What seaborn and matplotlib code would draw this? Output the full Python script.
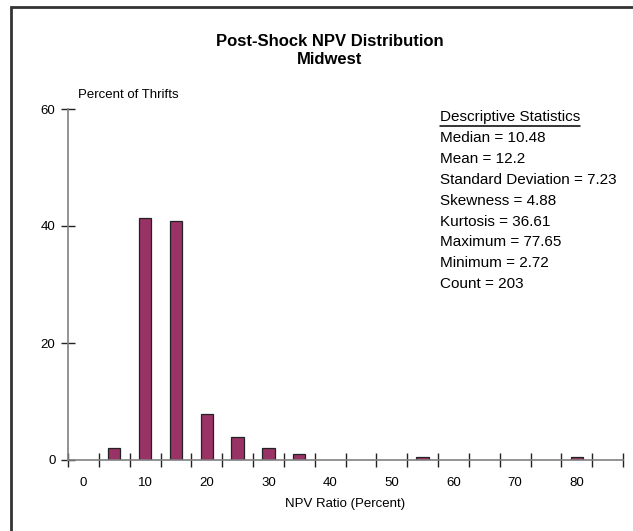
import matplotlib
matplotlib.use("Agg")
import matplotlib.pyplot as plt
import seaborn as sns
import pandas as pd
from matplotlib.patches import Rectangle

# bin centres (NPV ratio, percent) and share of thrifts in each bin
npv_bins = [5, 10, 15, 20, 25, 30, 35, 55, 80]
pct_thrifts = [1.97, 41.38, 40.89, 7.88, 3.94, 1.97, 0.99, 0.49, 0.49]

x_labels = [0, 10, 20, 30, 40, 50, 60, 70, 80]
y_ticks = [0, 20, 40, 60]

stats_lines = ["Median = 10.48", "Mean = 12.2", "Standard Deviation = 7.23",
               "Skewness = 4.88", "Kurtosis = 36.61", "Maximum = 77.65",
               "Minimum = 2.72", "Count = 203"]

df = pd.DataFrame({"npv": npv_bins, "pct": pct_thrifts})

sns.set_style("white", {"text.color": "black", "axes.labelcolor": "black",
                        "xtick.color": "black", "ytick.color": "black"})
plt.rcParams['font.family'] = ['Liberation Sans', 'DejaVu Sans']

fig = plt.figure(figsize=(6.33, 5.31), dpi=100)
ax = fig.add_axes([68 / 633, 1 - 460 / 531, (623 - 68) / 633, (460 - 109) / 531])

sns.barplot(data=df, x="npv", y="pct", native_scale=True, width=0.4,
            color="#993366", saturation=1, edgecolor="#222222",
            linewidth=0.9, ax=ax)

ax.set_xlim(-2.5, 87.5)
ax.set_ylim(0, 60)

# labels at every 10, tick marks between the 5-unit bins
ax.set_xticks(x_labels)
ax.set_xticklabels([str(v) for v in x_labels])
ax.set_xticks([-2.5 + 5 * i for i in range(19)], minor=True)
ax.tick_params(axis="x", which="major", length=0, pad=12, labelsize=9.5)
ax.tick_params(axis="x", which="minor", length=10, width=1, direction="inout",
               color="#222222", bottom=True)
ax.set_yticks(y_ticks)
ax.tick_params(axis="y", length=10, width=1, direction="inout",
               color="#222222", labelcolor="black", left=True, labelsize=9.5, pad=4)

for s in ["top", "right"]:
    ax.spines[s].set_visible(False)
for s in ["left", "bottom"]:
    ax.spines[s].set_color("#808080")
    ax.spines[s].set_linewidth(1.2)

ax.set_xlabel("NPV Ratio (Percent)", fontsize=9.5, labelpad=7)
ax.set_ylabel("")

fig.text(78 / 633, 1 - 95 / 531, "Percent of Thrifts", fontsize=9.5,
         ha="left", va="center")

fig.text(330 / 633, 1 - 41 / 531, "Post-Shock NPV Distribution", fontsize=12,
         fontweight="bold", ha="center", va="center")
fig.text(330 / 633, 1 - 60 / 531, "Midwest", fontsize=12,
         fontweight="bold", ha="center", va="center")

stats_x = 440 / 633
head = fig.text(stats_x, 1 - 117 / 531, "Descriptive Statistics", fontsize=11,
                ha="left", va="center")
# underline as wide as the heading
fig.canvas.draw()
bb = head.get_window_extent().transformed(fig.transFigure.inverted())
fig.add_artist(plt.Line2D([bb.x0, bb.x1], [1 - 126 / 531, 1 - 126 / 531],
                          color="black", linewidth=1.1, transform=fig.transFigure))
for i, line in enumerate(stats_lines):
    fig.text(stats_x, 1 - (138.5 + 20.8 * i) / 531, line, fontsize=11,
             ha="left", va="center")

# outer frame (only top and left edges visible in the original)
fig.add_artist(Rectangle((11 / 633, -0.05), 1.2, 1 - 7 / 531 + 0.05,
                         transform=fig.transFigure, fill=False,
                         edgecolor="#333333", linewidth=2))

fig.savefig("out.png", dpi=100)
